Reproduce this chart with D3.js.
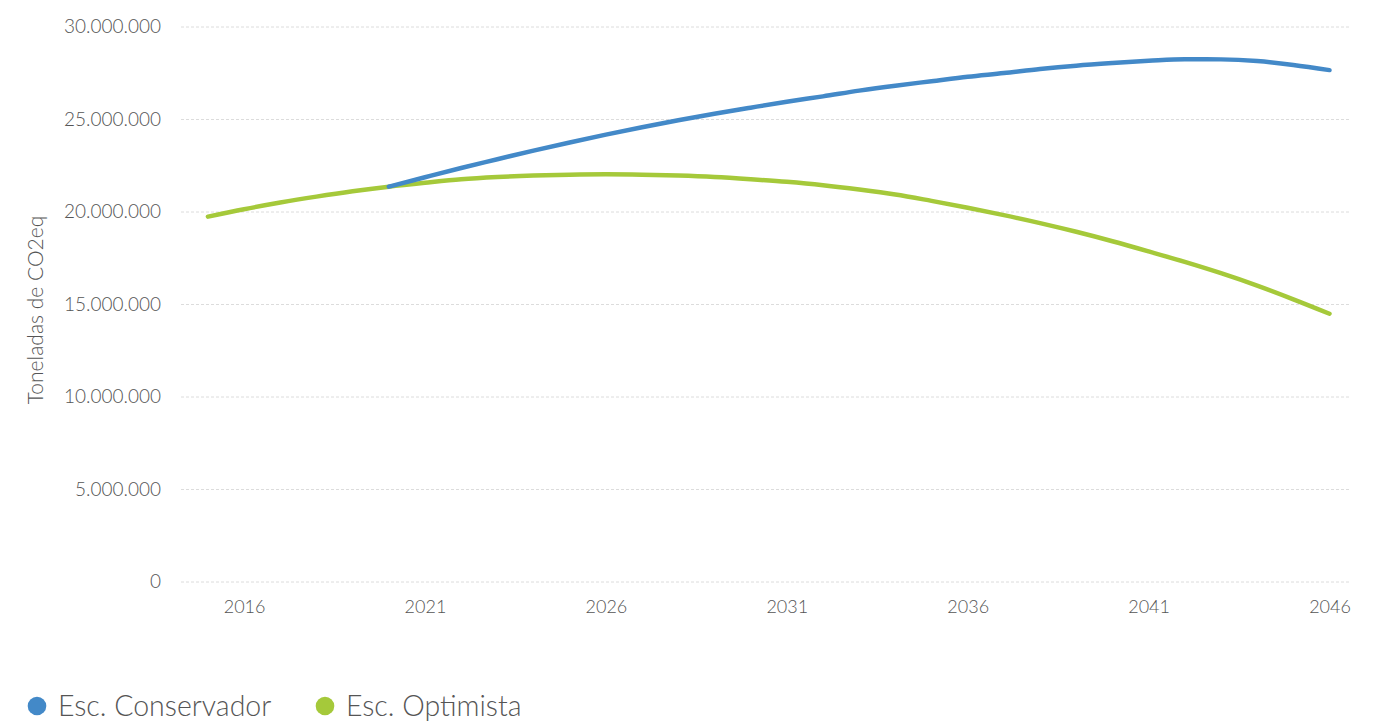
<!DOCTYPE html>
<html>
<head>
<meta charset="utf-8">
<script src="https://cdn.jsdelivr.net/npm/d3@7"></script>
<style>
  html, body { margin: 0; padding: 0; background: #fff; }
  svg { display: block; }
  text { font-family: Lato, "Open Sans", sans-serif; font-weight: 300; }
</style>
</head>
<body>
<svg id="chart" width="1375" height="722"></svg>
<script>
// ---- data ----
const yearsOptimista = [2015,2016,2017,2018,2019,2020,2021,2022,2023,2024,2025,2026,2027,2028,2029,2030,2031,2032,2033,2034,2035,2036,2037,2038,2039,2040,2041,2042,2043,2044,2045,2046];
const valuesOptimista = [19750000,20150000,20510000,20830000,21120000,21370000,21580000,21770000,21890000,21970000,22020000,22040000,22020000,21970000,21890000,21770000,21630000,21450000,21220000,20950000,20600000,20230000,19830000,19400000,18930000,18420000,17870000,17300000,16690000,16020000,15280000,14500000];
const yearsConservador = [2020,2021,2022,2023,2024,2025,2026,2027,2028,2029,2030,2031,2032,2033,2034,2035,2036,2037,2038,2039,2040,2041,2042,2043,2044,2045,2046];
const valuesConservador = [21370000,21880000,22380000,22850000,23320000,23760000,24180000,24580000,24960000,25310000,25640000,25960000,26250000,26560000,26830000,27070000,27310000,27510000,27730000,27910000,28050000,28170000,28260000,28250000,28160000,27950000,27670000];
const yTicks = [0,5000000,10000000,15000000,20000000,25000000,30000000];
const xTicks = [2016,2021,2026,2031,2036,2041,2046];
const seriesNames = ["Esc. Conservador", "Esc. Optimista"];
const seriesColors = ["#4389c8", "#a5c93a"];
const yTitle = "Toneladas de CO2eq";

// ---- layout ----
const svg = d3.select("#chart");
const plotLeft = 181, plotRight = 1351;
const x = d3.scaleLinear().domain([2015, 2046]).range([207.9, 1329.5]);
const y = d3.scaleLinear().domain([0, 30000000]).range([582, 27]);
const fmt = v => d3.format(",")(v).replace(/,/g, ".");
const textColor = "#555";

// gridlines
svg.append("g").selectAll("line").data(yTicks).join("line")
  .attr("x1", plotLeft).attr("x2", plotRight)
  .attr("y1", d => y(d)).attr("y2", d => y(d))
  .attr("stroke", "#dcdcdc").attr("stroke-width", 1)
  .attr("stroke-dasharray", "3,2");

// y axis labels
const yAxis = d3.axisLeft(y).tickValues(yTicks).tickFormat(fmt).tickSize(0).tickPadding(0);
const gy = svg.append("g").attr("transform", "translate(161,0)").call(yAxis);
gy.select(".domain").remove();
gy.selectAll("text").attr("fill", textColor).style("font-size", "19px")
  .style("font-family", "Lato, 'Open Sans', sans-serif").style("font-weight", 300).attr("dy", "0.3em");

// x axis labels
const xAxis = d3.axisBottom(x).tickValues(xTicks).tickFormat(d3.format("d")).tickSize(0).tickPadding(0);
const gx = svg.append("g").attr("transform", "translate(0,599)").call(xAxis);
gx.select(".domain").remove();
gx.selectAll("text").attr("fill", textColor).style("font-size", "18px")
  .style("font-family", "Lato, 'Open Sans', sans-serif").style("font-weight", 300).attr("dy", "0.76em");

// y title
svg.append("text")
  .attr("transform", "translate(43,310) rotate(-90)")
  .attr("text-anchor", "middle")
  .attr("fill", textColor)
  .style("font-size", "21px")
  .text(yTitle);

// lines
const line = d3.line().x(d => x(d[0])).y(d => y(d[1])).curve(d3.curveMonotoneX);
const optData = yearsOptimista.map((yr, i) => [yr, valuesOptimista[i]]);
const conData = yearsConservador.map((yr, i) => [yr, valuesConservador[i]]);
svg.append("path").datum(optData).attr("d", line)
  .attr("fill", "none").attr("stroke", seriesColors[1]).attr("stroke-width", 4.5)
  .attr("stroke-linecap", "round").attr("stroke-linejoin", "round");
svg.append("path").datum(conData).attr("d", line)
  .attr("fill", "none").attr("stroke", seriesColors[0]).attr("stroke-width", 4.5)
  .attr("stroke-linecap", "round").attr("stroke-linejoin", "round");

// legend
const legendX = [37, 325];
const lg = svg.append("g").selectAll("g").data(seriesNames).join("g")
  .attr("transform", (d, i) => `translate(${legendX[i]},706)`);
lg.append("circle").attr("r", 9.3).attr("fill", (d, i) => seriesColors[i]);
lg.append("text").attr("x", 21).attr("dy", "0.36em")
  .attr("fill", textColor).style("font-size", "28.5px").text(d => d);
</script>
</body>
</html>
